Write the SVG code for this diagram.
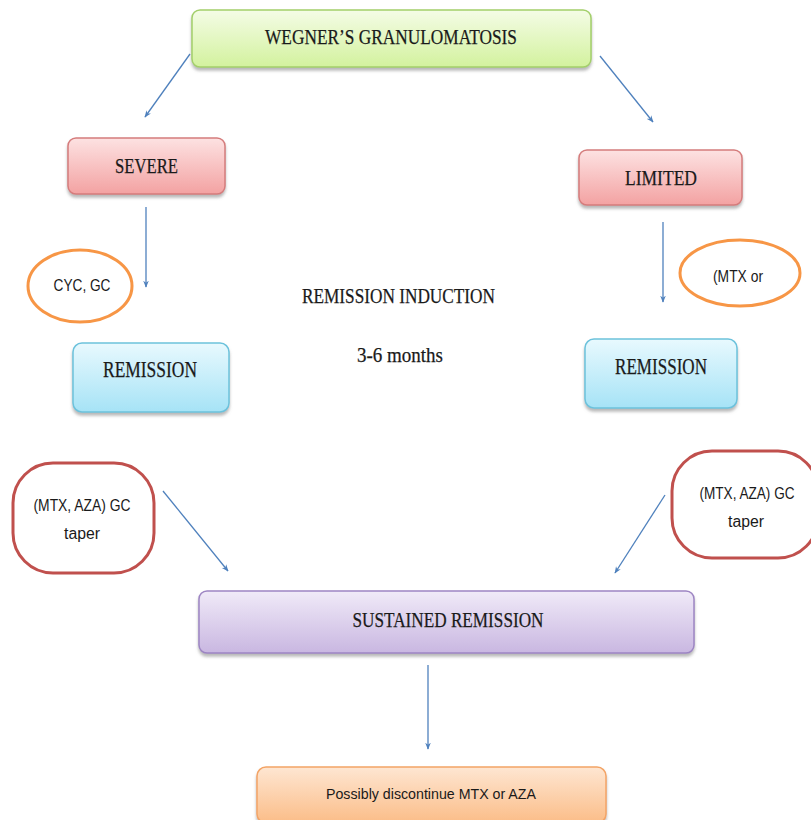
<svg xmlns="http://www.w3.org/2000/svg" width="811" height="820" viewBox="0 0 811 820">
<defs>
<linearGradient id="gGreen" x1="0" y1="0" x2="0" y2="1"><stop offset="0" stop-color="#f4fce6"/><stop offset="1" stop-color="#d3f29e"/></linearGradient>
<linearGradient id="gPink" x1="0" y1="0" x2="0" y2="1"><stop offset="0" stop-color="#fde2e2"/><stop offset="1" stop-color="#f3a2a2"/></linearGradient>
<linearGradient id="gBlue" x1="0" y1="0" x2="0" y2="1"><stop offset="0" stop-color="#e8f9fe"/><stop offset="1" stop-color="#a6e3f6"/></linearGradient>
<linearGradient id="gPurple" x1="0" y1="0" x2="0" y2="1"><stop offset="0" stop-color="#f0eaf8"/><stop offset="1" stop-color="#c9b7e1"/></linearGradient>
<linearGradient id="gOrange" x1="0" y1="0" x2="0" y2="1"><stop offset="0" stop-color="#fee6d2"/><stop offset="1" stop-color="#fbbd88"/></linearGradient>
<filter id="sh" x="-10%" y="-20%" width="120%" height="150%"><feDropShadow dx="0" dy="3" stdDeviation="1.5" flood-color="#808080" flood-opacity="0.55"/></filter>
<marker id="ah" viewBox="0 0 10 10" refX="9" refY="5" markerWidth="7" markerHeight="7" orient="auto" markerUnits="userSpaceOnUse"><path d="M0,1 L10,5 L0,9 L3,5 Z" fill="#4f81bd"/></marker>
</defs>
<style>
.box{filter:url(#sh);stroke-width:1.5}
.serif{font-family:"Liberation Serif","Times New Roman",serif;fill:#1a1a1a;stroke:#1a1a1a;stroke-width:0.25;text-anchor:middle}
.sans{font-family:"Liberation Sans",Arial,sans-serif;fill:#1a1a1a;text-anchor:middle}
.ell{fill:#ffffff;stroke:#f79646;stroke-width:3}
.red{fill:#ffffff;stroke:#c0504d;stroke-width:3}
.con line{stroke:#4f81bd;stroke-width:1.3;marker-end:url(#ah)}
</style>
<rect width="811" height="820" fill="#ffffff"/>

<g id="connectors" class="con">
<line x1="190" y1="54" x2="145" y2="117"/>
<line x1="600" y1="56" x2="653" y2="122"/>
<line x1="146" y1="207" x2="146" y2="287"/>
<line x1="663" y1="222" x2="663" y2="302"/>
<line x1="163" y1="491" x2="228" y2="571"/>
<line x1="665" y1="495" x2="615" y2="573"/>
<line x1="428" y1="665" x2="428" y2="749"/>
</g>

<g id="wegner">
<rect class="box" x="192" y="10" width="399" height="57" rx="8" fill="url(#gGreen)" stroke="#a3cf6a"/>
<text class="serif" x="391" y="44" font-size="22" textLength="252" lengthAdjust="spacingAndGlyphs">WEGNER’S GRANULOMATOSIS</text>
</g>

<g id="severe">
<rect class="box" x="68" y="138" width="157" height="56" rx="8" fill="url(#gPink)" stroke="#d57c7c"/>
<text class="serif" x="146.5" y="173" font-size="22" textLength="63" lengthAdjust="spacingAndGlyphs">SEVERE</text>
</g>

<g id="limited">
<rect class="box" x="579" y="150" width="163" height="55" rx="8" fill="url(#gPink)" stroke="#d57c7c"/>
<text class="serif" x="661" y="185" font-size="22" textLength="72" lengthAdjust="spacingAndGlyphs">LIMITED</text>
</g>

<g id="cyc">
<ellipse class="ell" cx="80" cy="286" rx="52" ry="36"/>
<text class="sans" x="82" y="291" font-size="16" textLength="57" lengthAdjust="spacingAndGlyphs">CYC, GC</text>
</g>

<g id="mtx-or">
<ellipse class="ell" cx="740" cy="273" rx="60" ry="33"/>
<text class="sans" x="738" y="282" font-size="16" textLength="50" lengthAdjust="spacingAndGlyphs">(MTX or</text>
</g>

<g id="induction">
<text class="serif" x="398.5" y="303" font-size="21" textLength="193" lengthAdjust="spacingAndGlyphs">REMISSION INDUCTION</text>
<text class="serif" x="400" y="362" font-size="21" textLength="86" lengthAdjust="spacingAndGlyphs">3-6 months</text>
</g>

<g id="remission-left">
<rect class="box" x="73" y="343" width="156" height="69" rx="9" fill="url(#gBlue)" stroke="#6cc2dc"/>
<text class="serif" x="150" y="377" font-size="23" textLength="94" lengthAdjust="spacingAndGlyphs">REMISSION</text>
</g>

<g id="remission-right">
<rect class="box" x="585" y="339" width="152" height="69" rx="9" fill="url(#gBlue)" stroke="#6cc2dc"/>
<text class="serif" x="661" y="374" font-size="23" textLength="92" lengthAdjust="spacingAndGlyphs">REMISSION</text>
</g>

<g id="taper-left">
<rect class="red" x="13" y="463" width="141" height="110" rx="40"/>
<text class="sans" x="82" y="511" font-size="16" textLength="97" lengthAdjust="spacingAndGlyphs">(MTX, AZA) GC</text>
<text class="sans" x="82" y="539" font-size="16" textLength="36" lengthAdjust="spacingAndGlyphs">taper</text>
</g>

<g id="taper-right">
<rect class="red" x="672" y="451" width="146" height="107" rx="40"/>
<text class="sans" x="747" y="499" font-size="16" textLength="95" lengthAdjust="spacingAndGlyphs">(MTX, AZA) GC</text>
<text class="sans" x="746" y="527" font-size="16" textLength="36" lengthAdjust="spacingAndGlyphs">taper</text>
</g>

<g id="sustained">
<rect class="box" x="199" y="591" width="495" height="62" rx="8" fill="url(#gPurple)" stroke="#9d85c3"/>
<text class="serif" x="448" y="627" font-size="22" textLength="191" lengthAdjust="spacingAndGlyphs">SUSTAINED REMISSION</text>
</g>

<g id="discontinue">
<rect class="box" x="257" y="767" width="349" height="56" rx="9" fill="url(#gOrange)" stroke="#f3a466"/>
<text class="sans" x="431" y="799" font-size="15" textLength="210" lengthAdjust="spacingAndGlyphs">Possibly discontinue MTX or AZA</text>
</g>
</svg>
